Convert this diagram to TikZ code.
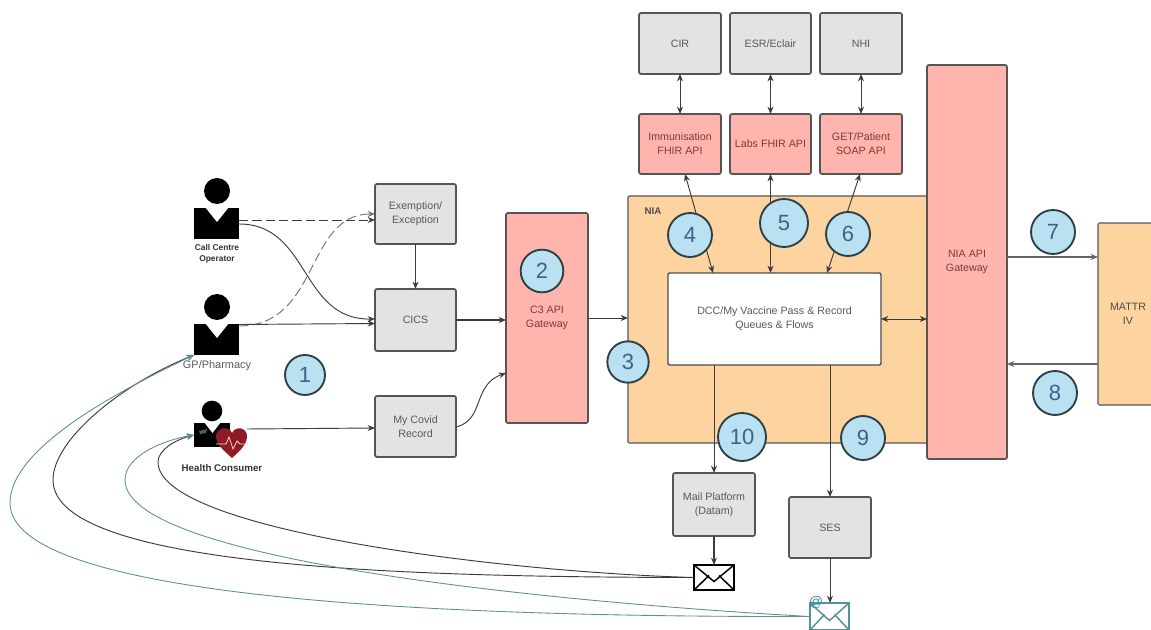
\documentclass[tikz,border=0pt]{standalone}
\usepackage{fontspec}
\setmainfont{Liberation Sans}
\usetikzlibrary{arrows.meta,calc}
\definecolor{edgeg}{HTML}{555555}
\definecolor{fillg}{HTML}{E3E3E3}
\definecolor{fillr}{HTML}{FFB4AE}
\definecolor{fillo}{HTML}{FDD3A0}
\definecolor{fillb}{HTML}{B9E1F1}
\definecolor{ringc}{HTML}{2C3F46}
\definecolor{numc}{HTML}{3D6485}
\definecolor{tealc}{HTML}{5A9098}
\definecolor{linec}{HTML}{3C3C3C}
\definecolor{heartc}{HTML}{8F1A24}
\definecolor{redtext}{HTML}{7D3B3B}
\definecolor{attext}{HTML}{3A8DB0}
\newcommand\bx[7]{%
  \pgfmathsetmacro\bxcx{(#2+#4)/2}%
  \pgfmathsetmacro\bxcy{(#3+#5)/2}%
  \pgfmathsetmacro\bxw{(#4-#2)*0.75}%
  \pgfmathsetmacro\bxh{(#5-#3)*0.75}%
  \node[#6,minimum width=\bxw pt,minimum height=\bxh pt] (#1) at (\bxcx,\bxcy) {#7};}
\newcommand\envel[2]{%
  \draw[#2] (#1.north west) -- ($(#1.center)+(0,4)$) -- (#1.north east)
            (#1.south west) -- ($(#1.center)+(-5,-2)$)
            (#1.south east) -- ($(#1.center)+(5,-2)$);}
\tikzset{
  x=0.75pt,y=-0.75pt,
  base/.style={draw=edgeg,line width=1.3pt,rounded corners=1.5pt,inner sep=0pt,outer sep=0pt,align=center,font=\fontsize{8}{10.5}\selectfont},
  greybox/.style={base,fill=fillg,text=black!65},
  redbox/.style={base,fill=fillr,text=redtext},
  orangebox/.style={base,fill=fillo,draw=black!65,line width=.9pt,rounded corners=1pt,text=black!70},
  whitebox/.style={base,fill=white,draw=black!70,line width=1pt,rounded corners=1pt,text=black!65},
  conn/.style={draw=linec,line width=.7pt,-{Stealth[length=5.5pt,width=4.5pt]}},
  biconn/.style={draw=linec,line width=.7pt,{Stealth[length=5.5pt,width=4.5pt]}-{Stealth[length=5.5pt,width=4.5pt]}},
  dashconn/.style={conn,dash pattern=on 7pt off 3pt},
  tealconn/.style={conn,draw=tealc,line width=.65pt},
  numdisc/.style={circle,draw=ringc,fill=fillb,line width=1.4pt,inner sep=0pt,outer sep=0pt,text=numc,font=\fontsize{16.5}{18}\selectfont},
  bodyshape/.style={fill=black,draw=none,inner sep=0pt,outer sep=0pt},
  headshape/.style={circle,fill=black,draw=none,inner sep=0pt,outer sep=0pt},
  tag/.style={inner sep=0pt,align=center,text=black!80},
}
\begin{document}
\begin{tikzpicture}
\useasboundingbox (0,0) rectangle (1151,630);
\clip (0,0) rectangle (1151,630);
\fill[white] (0,0) rectangle (1151,630);

% containers
\bx{nia}{628}{196}{930}{443}{orangebox}{}
\node[font=\bfseries\fontsize{7.3}{8}\selectfont,text=black!70,inner sep=0pt] (nialabel) at (653,211) {NIA};

% grey systems
\bx{exem}{375}{184}{456}{244}{greybox}{Exemption/\\Exception}
\bx{cics}{375}{289}{456}{351}{greybox}{CICS}
\bx{covid}{375}{396}{456}{457}{greybox}{My Covid\\Record}
\bx{cir}{639}{13}{721}{74}{greybox}{CIR}
\bx{esr}{730}{13}{811}{74}{greybox}{ESR/Eclair}
\bx{nhi}{820}{13}{902}{74}{greybox}{NHI}
\bx{mailp}{673}{473}{755}{536}{greybox}{Mail Platform\\(Datam)}
\bx{ses}{789}{497}{871}{558}{greybox}{SES}

% red systems
\bx{imm}{639}{114}{721}{174}{redbox}{Immunisation\\FHIR API}
\bx{labs}{730}{114}{811}{174}{redbox}{Labs FHIR API}
\bx{getp}{820}{114}{902}{174}{redbox}{GET/Patient\\SOAP API}
\bx{c3}{506}{213}{588}{423}{redbox}{C3 API\\Gateway}
\bx{gw}{927}{65}{1007}{459}{redbox}{NIA API\\Gateway}

\bx{mattr}{1098}{223}{1158}{405}{orangebox}{MATTR\\IV}
\bx{dcc}{668}{273}{881}{365}{whitebox}{DCC/My Vaccine Pass \& Record\\Queues \& Flows}

% people
\bx{cc}{194}{208}{239}{239}{bodyshape}{}
\fill[white] (205,207) -- (229,207) -- (217,222) -- cycle;
\node[headshape,minimum size=19.5pt] (cchead) at (217,191) {};
\node[tag,font=\bfseries\fontsize{6.3}{8.6}\selectfont] (cclabel) at (217,254) {Call Centre\\Operator};

\bx{gp}{194}{324}{239}{355}{bodyshape}{}
\fill[white] (205,323) -- (229,323) -- (217,338) -- cycle;
\node[headshape,minimum size=19.5pt] (gphead) at (217,307) {};
\node[tag,font=\fontsize{8.2}{10}\selectfont,text=black!65] (gplabel) at (217,366) {GP/Pharmacy};

\bx{hc}{194}{423}{230}{447}{bodyshape}{}
\fill[white] (204,422) -- (221,422) -- (212.5,433) -- cycle;
\fill[tealc!70!black] (199,431) -- (207,429) -- (206,433) -- (200,434) -- cycle;
\node[headshape,minimum size=15.5pt] (hchead) at (212,411) {};
\fill[heartc] (232,458) .. controls (223,450) and (216,444) .. (216,436)
  .. controls (216,428) and (229,425) .. (232,433)
  .. controls (236,425) and (247,428) .. (247,436)
  .. controls (247,444) and (241,450) .. (232,458) -- cycle;
\draw[white!85!red,line width=.55pt] (216,444) -- (226,444) -- (229,437) -- (233,449) -- (237,441) -- (240,444) -- (249,444);
\coordinate (hcout) at (247,429);
\node[tag,font=\bfseries\fontsize{7.3}{9}\selectfont] (hclabel) at (222,468) {Health Consumer};

% envelopes
\bx{mailicon}{694}{565}{734}{590}{draw=black,fill=white,line width=1.3pt,inner sep=0pt,outer sep=0pt}{}
\envel{mailicon}{black,line width=1.1pt}
\bx{emailicon}{810}{603}{849}{630}{draw=tealc,fill=white,line width=1.2pt,inner sep=0pt,outer sep=0pt}{}
\envel{emailicon}{tealc,line width=1.1pt}
\node[text=attext,font=\fontsize{10.5}{11}\selectfont,inner sep=0pt] (atsign) at (816,602) {@};

% connectors: people to systems
\draw[dashconn] (cc.east |- 0,220) -- (exem.west |- 0,220);
\draw[dashconn,draw=black!55] (gp.east |- 0,326) .. controls (320,326) and (305,214) .. (exem.west |- 0,214);
\draw[conn] (cc.east |- 0,224) .. controls (310,224) and (300,320) .. (cics.west |- 0,319);
\draw[conn] (gp.east |- 0,324.5) -- (cics.west |- 0,323.5);
\draw[conn] (hcout) -- (covid.west |- 0,428);
\draw[conn] (exem) -- (cics);
\draw[conn,line width=.9pt] (cics.east |- 0,320) -- (c3.west |- 0,320);
\draw[conn] (covid.east |- 0,427) .. controls (485,420) and (472,385) .. (c3.west |- 0,373);
\draw[conn] (c3.east |- 0,318) -- (nia.west |- 0,318);

% connectors: top row
\draw[biconn] (cir.south -| 680,0) -- (imm.north -| 680,0);
\draw[biconn] (esr) -- (labs);
\draw[biconn] (nhi) -- (getp);
\draw[biconn] (685,174) -- (713,273);
\draw[biconn] (labs) -- (dcc.north -| labs);
\draw[biconn] (860,174) -- (827,273);

% connectors: right side
\draw[biconn] (dcc.east) -- (gw.west |- dcc.east);
\draw[conn,draw=black!60,line width=.9pt] (gw.east |- 0,257) -- (mattr.west |- 0,257);
\draw[conn,draw=black!60,line width=.9pt] (mattr.west |- 0,364) -- (gw.east |- 0,364);

% connectors: down
\draw[conn] (dcc.south -| mailp) -- (mailp);
\draw[conn] (dcc.south -| ses) -- (ses);
\draw[conn,line width=.9pt] (mailp) -- (mailicon);
\draw[conn] (ses) -- (ses |- emailicon.north);

% long return curves
\draw[conn] (mailicon.west) .. controls (430,577) and (53,570) .. (53,480) .. controls (53,440) and (120,385) .. (gp.south west);
\draw[tealconn] (emailicon.west) .. controls (500,617) and (10,605) .. (10,503) .. controls (10,450) and (110,395) .. (gp.south west);
\draw[conn] (mailicon.west) .. controls (500,572) and (158,530) .. (158,462) .. controls (158,450) and (175,440) .. (hc.west);
\draw[tealconn] (emailicon.west) .. controls (600,605) and (125,565) .. (125,480) .. controls (125,455) and (165,440) .. (hc.west);

% numbered discs
\node[numdisc,minimum size=30pt] (n1) at (305,375) {1};
\node[numdisc,minimum size=32pt] (n2) at (542,271) {2};
\node[numdisc,minimum size=31pt] (n3) at (628,362) {3};
\node[numdisc,minimum size=33pt] (n4) at (690,235) {4};
\node[numdisc,minimum size=36pt] (n5) at (784,223) {5};
\node[numdisc,minimum size=33pt] (n6) at (848,234) {6};
\node[numdisc,minimum size=33pt] (n7) at (1053,232) {7};
\node[numdisc,minimum size=33pt] (n8) at (1055,393) {8};
\node[numdisc,minimum size=33pt] (n9) at (863,438) {9};
\node[numdisc,minimum size=36pt] (n10) at (742,437) {10};
\end{tikzpicture}
\end{document}
